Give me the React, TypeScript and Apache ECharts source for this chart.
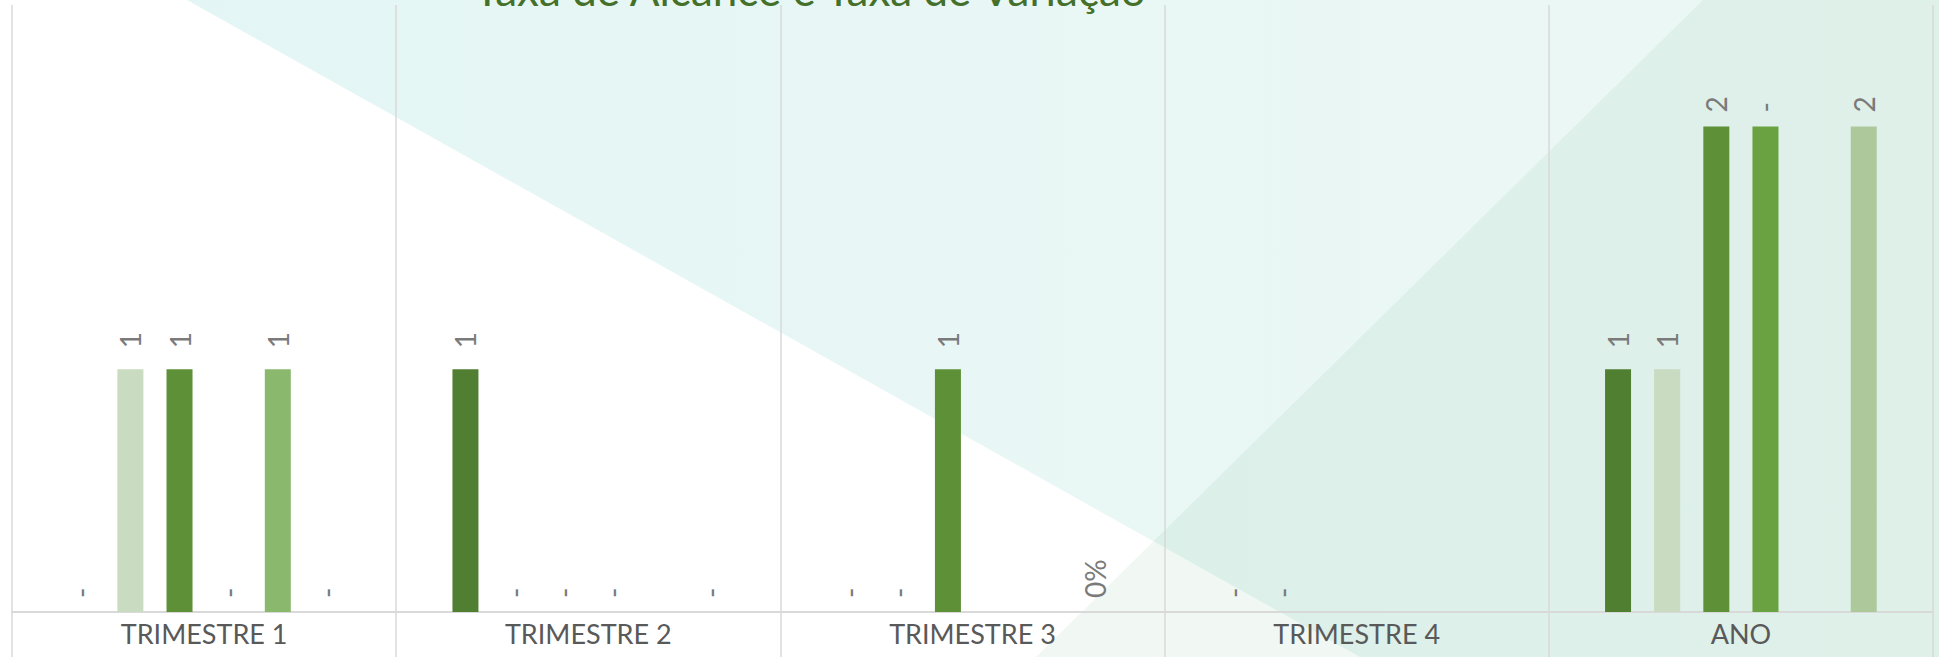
import React, { useEffect, useRef } from "react";
import * as echarts from "echarts";

const categories = ["TRIMESTRE 1", "TRIMESTRE 2", "TRIMESTRE 3", "TRIMESTRE 4", "ANO"];

const serie1 = [0, 1, 0, 0, 1];
const rotulos1 = ["-", "1", "-", "-", "1"];
const serie2 = [1, 0, 0, 0, 1];
const rotulos2 = ["1", "-", "-", "-", "1"];
const serie3 = [1, 0, 1, null, 2];
const rotulos3 = ["1", "-", "1", "", "2"];
const serie4 = [0, 0, null, null, 2];
const rotulos4 = ["-", "-", "", "", "-"];
const serie5 = [1, null, null, null, null];
const rotulos5 = ["1", "", "", "", ""];
const serie6 = [0, 0, 0, null, 2];
const rotulos6 = ["-", "-", "0%", "", "2"];

const seriesNames = ["Série 1", "Série 2", "Série 3", "Série 4", "Série 5", "Série 6"];
const seriesColors = ["#507f32", "#c9dbc0", "#5e9038", "#6aa141", "#8ab96e", "#adc99c"];

const titleText = "Taxa de Alcance e Taxa de Variação";

const FONT = "Lato, 'Open Sans', sans-serif";

export default function App() {
  const ref = useRef<HTMLDivElement>(null);

  useEffect(() => {
    if (!ref.current) return;
    const chart = echarts.init(ref.current, null, { renderer: "svg" });
    const values = [serie1, serie2, serie3, serie4, serie5, serie6];
    const labels = [rotulos1, rotulos2, rotulos3, rotulos4, rotulos5, rotulos6];

    const series = values.map((vals, si) => ({
      name: seriesNames[si],
      type: "bar",
      barWidth: 26,
      barGap: "89%",
      itemStyle: { color: seriesColors[si] },
      data: vals.map((v, i) =>
        v === null
          ? null
          : {
              value: v,
              label: { distance: labels[si][i] === "1" ? 21 : 14 },
            }
      ),
      label: {
        show: true,
        position: "top",
        rotate: 90,
        align: "left",
        verticalAlign: "middle",
        color: "#7a7a7a",
        fontSize: 28,
        fontFamily: FONT,
        formatter: (p: any) => labels[si][p.dataIndex],
      },
      z: 3,
    }));

    chart.setOption({
      animation: false,
      backgroundColor: "#ffffff",
      graphic: [
        {
          type: "polygon",
          z: -10,
          silent: true,
          shape: { points: [[187, 0], [1939, 0], [1939, 657], [1360, 657]] },
          style: {
            fill: new echarts.graphic.LinearGradient(0, 0, 1, 0, [
              { offset: 0, color: "rgba(0,170,160,0.11)" },
              { offset: 0.5, color: "rgba(20,170,150,0.095)" },
              { offset: 1, color: "rgba(40,170,130,0.09)" },
            ]),
          },
        },
        {
          type: "polygon",
          z: -9,
          silent: true,
          shape: { points: [[1036, 657], [1703, 0], [1939, 0], [1939, 657]] },
          style: { fill: "rgba(60,160,100,0.07)" },
        },
        {
          type: "text",
          z: 10,
          x: 810,
          y: -11,
          style: {
            text: titleText,
            fontSize: 44,
            fontFamily: FONT,
            fill: "#44702a",
            align: "center",
            verticalAlign: "middle",
            textAlign: "center",
            textVerticalAlign: "middle",
          },
        },
      ],
      grid: { left: 12, right: 6, top: 5, bottom: 45, containLabel: false },
      xAxis: {
        type: "category",
        data: categories,
        boundaryGap: true,
        axisLine: { show: true, lineStyle: { color: "#d9d9d9", width: 2 } },
        axisTick: { show: true, length: 45, lineStyle: { color: "#d9d9d9", width: 1.5 } },
        splitLine: { show: true, lineStyle: { color: "#d9d9d9", width: 1.5 } },
        axisLabel: { color: "#595959", fontSize: 27, fontFamily: FONT, margin: 8 },
      },
      yAxis: {
        type: "value",
        min: 0,
        max: 2.5,
        show: false,
        splitLine: { show: false },
      },
      series,
    });

    return () => chart.dispose();
  }, []);

  return (
    <div
      ref={ref}
      style={{ position: "fixed", left: 0, top: 0, width: 1939, height: 657 }}
    />
  );
}
